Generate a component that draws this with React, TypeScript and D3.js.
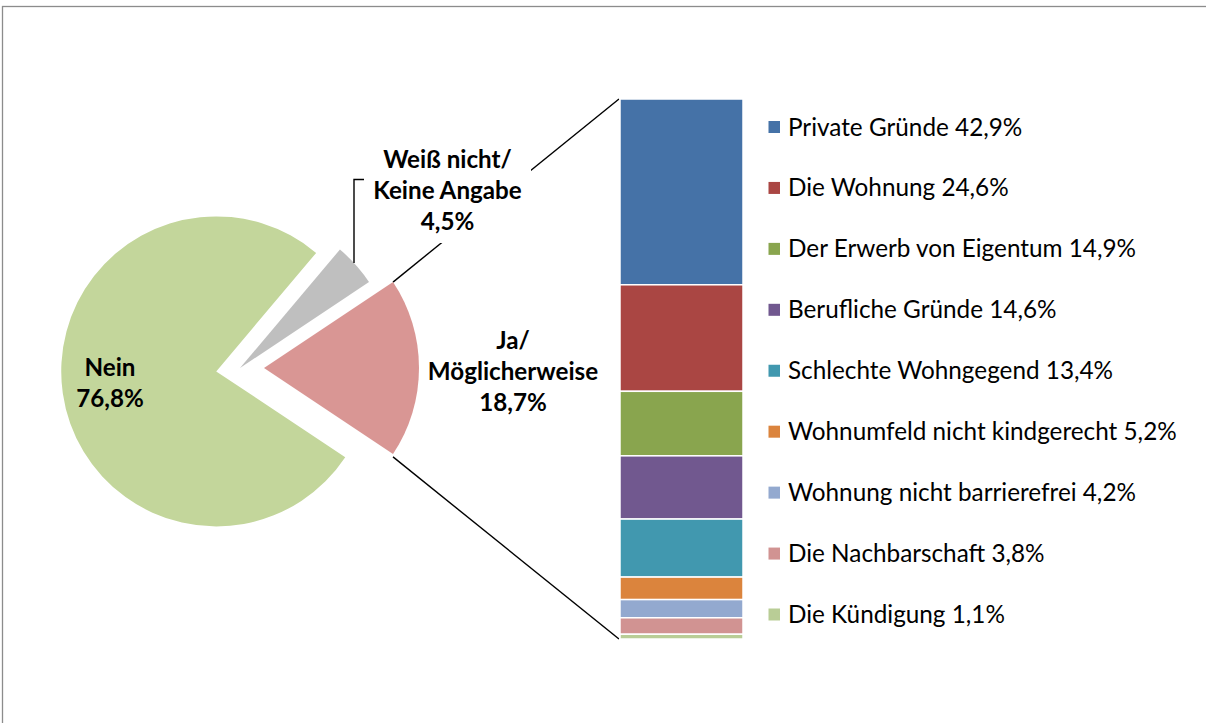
import React from "react";
import * as d3 from "d3";

const pieCategories = ["Ja/ Möglicherweise", "Nein", "Weiß nicht/ Keine Angabe"];
const pieLabelLines = [["Ja/", "Möglicherweise"], ["Nein"], ["Weiß nicht/", "Keine Angabe"]];
const pieValues = [18.7, 76.8, 4.5];
const pieColors = ["#D99694", "#C3D69B", "#BFBFBF"];

const barCategories = [
  "Private Gründe",
  "Die Wohnung",
  "Der Erwerb von Eigentum",
  "Berufliche Gründe",
  "Schlechte Wohngegend",
  "Wohnumfeld nicht kindgerecht",
  "Wohnung nicht barrierefrei",
  "Die Nachbarschaft",
  "Die Kündigung",
];
const barValues = [42.9, 24.6, 14.9, 14.6, 13.4, 5.2, 4.2, 3.8, 1.1];
const barColors = ["#4572A7", "#AA4643", "#89A54E", "#71588F", "#4198AF", "#DB843D", "#93A9CF", "#D19392", "#B9CD96"];

const W = 1206;
const H = 723;
const FONT = "Lato, 'Open Sans', sans-serif";

const fmt = (v: number) => v.toFixed(1).replace(".", ",") + "%";

export default function App() {
  const cx = 240;
  const cy = 368;
  const R = 155;
  const explode = [24, 24, 0];

  const jaAngle = (pieValues[0] / d3.sum(pieValues)) * 2 * Math.PI;
  const pie = d3
    .pie<number>()
    .sort(null)
    .startAngle(Math.PI / 2 - jaAngle / 2)
    .endAngle(Math.PI / 2 - jaAngle / 2 + 2 * Math.PI);
  const arcs = pie(pieValues);
  const arc = d3.arc<d3.PieArcDatum<number>>().innerRadius(0).outerRadius(R);

  const offsets = arcs.map((a, i) => {
    const mid = (a.startAngle + a.endAngle) / 2;
    return [Math.sin(mid) * explode[i], -Math.cos(mid) * explode[i]];
  });

  // Ja slice corners
  const ja = arcs[0];
  const jx = cx + offsets[0][0];
  const jy = cy + offsets[0][1];
  const topCorner = [jx + R * Math.sin(ja.startAngle), jy - R * Math.cos(ja.startAngle)];
  const botCorner = [jx + R * Math.sin(ja.endAngle), jy - R * Math.cos(ja.endAngle)];

  // stacked bar
  const barX0 = 620;
  const barX1 = 743;
  const total = d3.sum(barValues);
  const y = d3.scaleLinear().domain([0, total]).range([99, 639]);
  const cum = d3.cumsum(barValues);
  const segs = barValues.map((v, i) => ({ v, y0: cum[i] - v, y1: cum[i], color: barColors[i] }));

  // legend
  const legendY = d3.scalePoint<number>().domain(d3.range(barCategories.length)).range([127, 614.5]);

  // pie label layout
  const labelLayout = [
    { x: 513, y: 349 },
    { x: 110, y: 375.5 },
    { x: 447.5, y: 168 },
  ];
  const lineH = 31;

  return (
    <svg
      width={W}
      height={H}
      style={{ position: "absolute", left: 0, top: 0, background: "#fff" }}
      fontFamily={FONT}
    >
      <rect x={0} y={0} width={W} height={H} fill="#fff" />
      {/* chart border (extends beyond view) */}
      <rect x={2.5} y={6.5} width={W + 20} height={H + 20} fill="none" stroke="#8C8C8C" strokeWidth={1.3} />

      {/* series lines */}
      <line x1={topCorner[0]} y1={topCorner[1]} x2={barX0 - 1} y2={y(0)} stroke="#000" strokeWidth={1.4} />
      <line x1={botCorner[0]} y1={botCorner[1] + 3} x2={barX0 - 1} y2={y(total)} stroke="#000" strokeWidth={1.4} />

      {/* pie */}
      {arcs.map((a, i) => (
        <path
          key={pieCategories[i]}
          d={arc(a) || ""}
          transform={`translate(${cx + offsets[i][0]},${cy + offsets[i][1]})`}
          fill={pieColors[i]}
        />
      ))}

      {/* leader line for Weiß nicht */}
      <polyline points="354,263 354,179.5 364,179.5" fill="none" stroke="#000" strokeWidth={1.4} />

      {/* white background box for Weiß nicht label */}
      <rect x={364} y={141} width={167} height={102} fill="#fff" />

      {/* pie labels */}
      {labelLayout.map((p, i) => {
        const lines = [...pieLabelLines[i], fmt(pieValues[i])];
        return (
          <text
            key={pieCategories[i]}
            x={p.x}
            y={p.y}
            textAnchor="middle"
            fontWeight="bold"
            fontSize={24.2}
            fill="#000"
          >
            {lines.map((t, k) => (
              <tspan key={k} x={p.x} dy={k === 0 ? 0 : lineH}>
                {t}
              </tspan>
            ))}
          </text>
        );
      })}

      {/* stacked bar */}
      {segs.map((s, i) => (
        <rect
          key={barCategories[i]}
          x={barX0}
          y={y(s.y0)}
          width={barX1 - barX0}
          height={y(s.y1) - y(s.y0)}
          fill={s.color}
          stroke="#fff"
          strokeWidth={1.5}
        />
      ))}

      {/* legend */}
      {barCategories.map((c, i) => {
        const ly = legendY(i) as number;
        return (
          <g key={c}>
            <rect x={768.5} y={ly - 6} width={11.5} height={12} fill={barColors[i]} />
            <text x={788} y={ly + 8.5} fontSize={24.3} fill="#000">
              {`${c} ${fmt(barValues[i])}`}
            </text>
          </g>
        );
      })}
    </svg>
  );
}
